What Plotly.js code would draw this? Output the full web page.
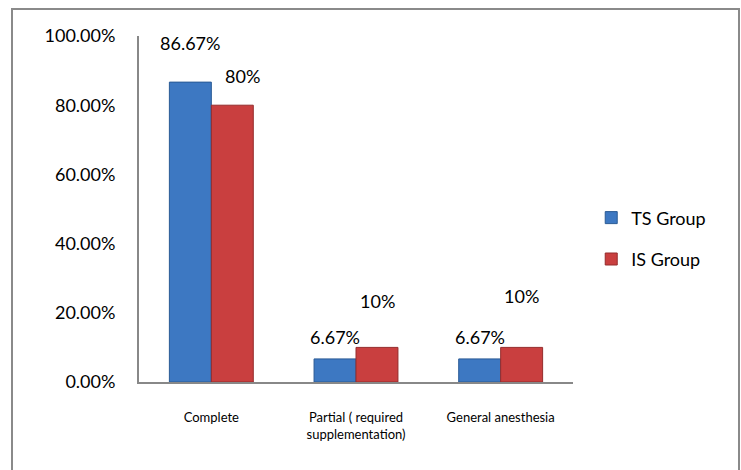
<!DOCTYPE html>
<html>
<head>
<meta charset="utf-8">
<script src="https://cdn.plot.ly/plotly-3.0.1.min.js"></script>
<style>
  html, body { margin: 0; padding: 0; background: #fff; }
  #wrap { position: relative; width: 741px; height: 470px; overflow: hidden; }
  #chart { width: 741px; height: 470px; }
  #frame { position: absolute; left: 11px; top: 8px; width: 725px; height: 480px;
           border: 2px solid #8a8a8a; pointer-events: none; }
</style>
</head>
<body>
<div id="wrap"><div id="chart"></div><div id="frame"></div></div>
<script>
const categories = ["Complete", "Partial ( required<br>supplementation)", "General anesthesia"];
const tsValues = [0.8667, 0.0667, 0.0667];
const isValues = [0.80, 0.10, 0.10];
const tsLabels = ["86.67%", "6.67%", "6.67%"];
const isLabels = ["80%", "10%", "10%"];
const seriesNames = ["TS Group", "IS Group"];

const FONT = "Lato, 'Open Sans', sans-serif";
const tsColor = "#3D78C2";
const isColor = "#C93F3F";

const traces = [
  { type: "bar", name: seriesNames[0], x: categories, y: tsValues, legendgroup: "a",
    marker: { color: tsColor, line: { color: "#2A5A95", width: 1 } }, hoverinfo: "none" },
  { type: "bar", name: seriesNames[1], x: categories, y: isValues, legendgroup: "b",
    marker: { color: isColor, line: { color: "#952C2C", width: 1 } }, hoverinfo: "none" }
];

// label offsets (pixels) as in the reference
const tsShift = [[0, 39], [0, 22], [0, 22]];
const isShift = [[10, 29], [0, 46], [0, 51]];
const annotations = [];
categories.forEach((c, i) => {
  annotations.push({ x: c, y: tsValues[i], text: tsLabels[i], showarrow: false,
    xshift: -21 + tsShift[i][0], yshift: tsShift[i][1], yanchor: "middle",
    font: { family: FONT, size: 18, color: "#000" } });
  annotations.push({ x: c, y: isValues[i], text: isLabels[i], showarrow: false,
    xshift: 21 + isShift[i][0], yshift: isShift[i][1], yanchor: "middle",
    font: { family: FONT, size: 18, color: "#000" } });
});

const layout = {
  width: 741, height: 470,
  margin: { l: 139, r: 168, t: 36, b: 88 },
  paper_bgcolor: "#fff", plot_bgcolor: "#fff",
  font: { family: FONT, color: "#000" },
  barmode: "group", bargap: 0.42, bargroupgap: 0,
  showlegend: true,
  legend: { x: 1.042, xanchor: "left", y: 0.415, yanchor: "middle",
    font: { family: FONT, size: 18, color: "#000" },
    traceorder: "grouped", tracegroupgap: 15, itemwidth: 30 },
  xaxis: { type: "category", showline: true, linecolor: "#888", linewidth: 2,
    showgrid: false, zeroline: false, ticks: "", ticklabelstandoff: 22,
    tickfont: { family: FONT, size: 13, color: "#000" } },
  yaxis: { range: [0, 1], dtick: 0.2, tickformat: ".2%", showline: true,
    linecolor: "#888", linewidth: 2, showgrid: false, zeroline: false, ticks: "",
    ticklabelstandoff: 18, tickfont: { family: FONT, size: 18, color: "#000" } },
  annotations: annotations
};

Plotly.newPlot("chart", traces, layout, { displayModeBar: false, staticPlot: true });
</script>
</body>
</html>
